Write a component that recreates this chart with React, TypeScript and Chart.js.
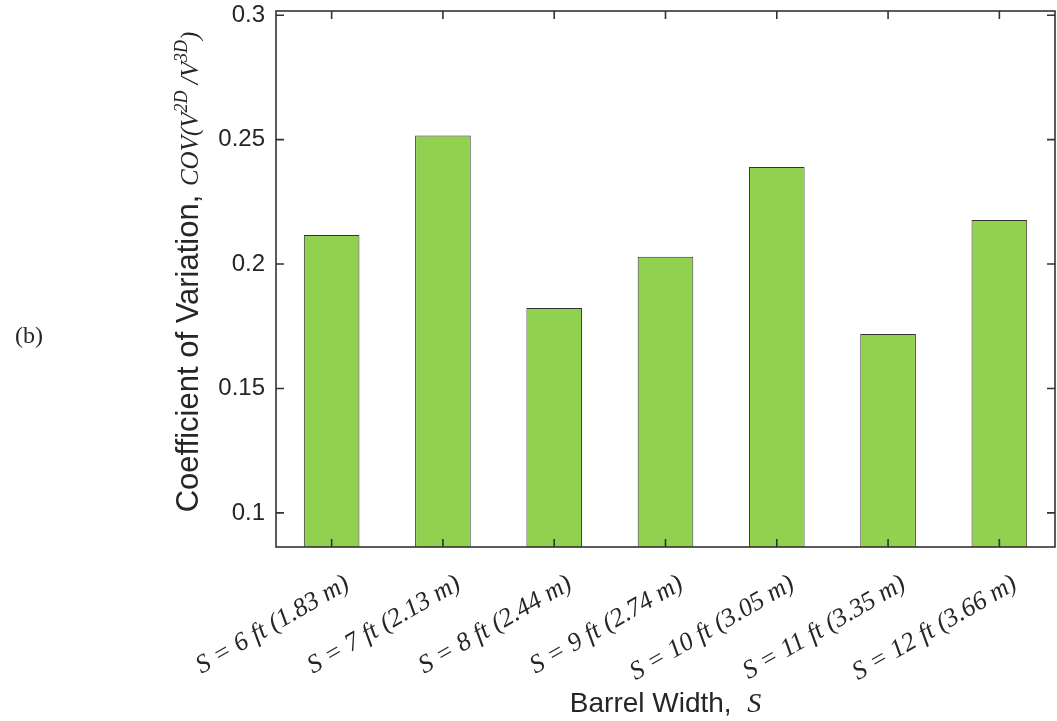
import React, { useEffect, useRef } from 'react';
import { Chart, registerables } from 'chart.js';

Chart.register(...registerables);

const categories = [
  'S = 6 ft (1.83 m)',
  'S = 7 ft (2.13 m)',
  'S = 8 ft (2.44 m)',
  'S = 9 ft (2.74 m)',
  'S = 10 ft (3.05 m)',
  'S = 11 ft (3.35 m)',
  'S = 12 ft (3.66 m)',
];
const covValues = [0.2117, 0.2517, 0.1823, 0.2029, 0.239, 0.1719, 0.2177];
const yTickValues = [0.1, 0.15, 0.2, 0.25, 0.3];
const yTickLabels = ['0.1', '0.15', '0.2', '0.25', '0.3'];
const yMin = 0.0863;
const yMax = 0.3017;

const W = 1057;
const H = 721;
const SANS = '"Liberation Sans", Arial, Helvetica, sans-serif';
const SERIF = '"Liberation Serif", "Times New Roman", Times, serif';
const TEXT = '#262626';
const LINE = '#333333';
const XLABEL_ANGLE = 30;

type Run = { text: string; font: string; dy: number };

function drawRuns(ctx: CanvasRenderingContext2D, runs: Run[], startX: number) {
  let x = startX;
  for (const r of runs) {
    ctx.font = r.font;
    ctx.fillText(r.text, x, r.dy);
    x += ctx.measureText(r.text).width;
  }
}
function runsWidth(ctx: CanvasRenderingContext2D, runs: Run[]) {
  let w = 0;
  for (const r of runs) {
    ctx.font = r.font;
    w += ctx.measureText(r.text).width;
  }
  return w;
}

const matlabPlugin = {
  id: 'matlabBox',
  afterDraw(chart: any) {
    const { ctx, chartArea: a, scales } = chart;
    ctx.save();
    // box
    ctx.strokeStyle = LINE;
    ctx.lineWidth = 1.6;
    ctx.strokeRect(a.left, a.top, a.right - a.left, a.bottom - a.top);
    // inner ticks
    const tl = 8;
    ctx.beginPath();
    scales.y.ticks.forEach((t: any) => {
      const py = scales.y.getPixelForValue(t.value);
      ctx.moveTo(a.left, py);
      ctx.lineTo(a.left + tl, py);
      ctx.moveTo(a.right, py);
      ctx.lineTo(a.right - tl, py);
    });
    scales.x.ticks.forEach((_t: any, i: number) => {
      const px = scales.x.getPixelForTick(i);
      ctx.moveTo(px, a.bottom);
      ctx.lineTo(px, a.bottom - tl);
      ctx.moveTo(px, a.top);
      ctx.lineTo(px, a.top + tl);
    });
    ctx.stroke();

    ctx.fillStyle = TEXT;
    ctx.textBaseline = 'alphabetic';

    // rotated category labels
    ctx.font = `italic 26px ${SERIF}`;
    ctx.textAlign = 'right';
    scales.x.ticks.forEach((_t: any, i: number) => {
      const px = scales.x.getPixelForTick(i);
      ctx.save();
      ctx.translate(px + 19, a.bottom + 41);
      ctx.rotate((-XLABEL_ANGLE * Math.PI) / 180);
      ctx.fillText(String(scales.x.getLabelForValue(i)), 0, 0);
      ctx.restore();
    });

    ctx.textAlign = 'left';
    // y title
    const yRuns: Run[] = [
      { text: 'Coefficient of Variation, ', font: `31px ${SANS}`, dy: 0 },
      { text: 'COV(V', font: `italic 25px ${SERIF}`, dy: 0 },
      { text: '2D', font: `italic 18px ${SERIF}`, dy: -11 },
      { text: ' /V', font: `italic 25px ${SERIF}`, dy: 0 },
      { text: '3D', font: `italic 18px ${SERIF}`, dy: -11 },
      { text: ')', font: `italic 25px ${SERIF}`, dy: 0 },
    ];
    ctx.save();
    ctx.translate(198, 272);
    ctx.rotate(-Math.PI / 2);
    const yw = runsWidth(ctx, yRuns);
    drawRuns(ctx, yRuns, -yw / 2);
    ctx.restore();

    // x title
    const xRuns: Run[] = [
      { text: 'Barrel Width,  ', font: `28px ${SANS}`, dy: 0 },
      { text: 'S', font: `italic 28px ${SERIF}`, dy: 0 },
    ];
    ctx.save();
    ctx.translate((a.left + a.right) / 2, 712);
    const xw = runsWidth(ctx, xRuns);
    drawRuns(ctx, xRuns, -xw / 2);
    ctx.restore();

    // panel label
    ctx.font = `24px ${SERIF}`;
    ctx.textAlign = 'right';
    ctx.fillText('(b)', 43, 343);

    ctx.restore();
  },
};

export default function App() {
  const ref = useRef<HTMLCanvasElement | null>(null);
  useEffect(() => {
    if (!ref.current) return;
    const chart = new Chart(ref.current, {
      type: 'bar',
      data: {
        labels: categories,
        datasets: [
          {
            data: covValues,
            backgroundColor: '#92D050',
            borderColor: LINE,
            borderWidth: 1,
            barPercentage: 0.5,
            categoryPercentage: 1,
          },
        ],
      },
      options: {
        responsive: false,
        animation: false,
        layout: { padding: { top: 11, right: 2, left: 0, bottom: 0 } },
        plugins: { legend: { display: false }, tooltip: { enabled: false } },
        scales: {
          x: {
            type: 'category',
            grid: { display: false, drawTicks: false },
            border: { display: false },
            ticks: { display: false, autoSkip: false },
            afterFit: (s: any) => {
              s.height = 174;
              s.paddingLeft = 0;
              s.paddingRight = 0;
            },
          },
          y: {
            type: 'linear',
            min: yMin,
            max: yMax,
            grid: { display: false, drawTicks: false },
            border: { display: false },
            ticks: {
              padding: 11,
              color: TEXT,
              font: { family: SANS, size: 24 },
              callback: (v: any) => {
                const i = yTickValues.findIndex((t) => Math.abs(t - v) < 1e-9);
                return i >= 0 ? yTickLabels[i] : '';
              },
            },
            afterBuildTicks: (s: any) => {
              s.ticks = yTickValues.map((v) => ({ value: v }));
            },
            afterFit: (s: any) => {
              s.width = 276;
              s.paddingTop = 0;
              s.paddingBottom = 0;
            },
          },
        },
      },
      plugins: [matlabPlugin],
    } as any);
    return () => chart.destroy();
  }, []);
  return (
    <div style={{ position: 'fixed', left: 0, top: 0, width: W, height: H, background: '#fff' }}>
      <canvas ref={ref} width={W} height={H} style={{ display: 'block', width: W, height: H }} />
    </div>
  );
}
